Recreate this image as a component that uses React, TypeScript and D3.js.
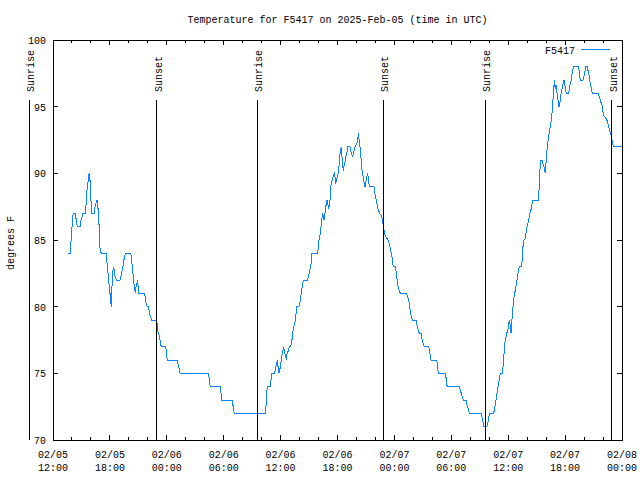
import React from "react";
import * as d3 from "d3";

// Time axis: hours after 2025-02-05 12:00 UTC
const startUtc = Date.UTC(2025, 1, 5, 12, 0);
const endUtc = Date.UTC(2025, 1, 8, 0, 0);

const seriesName = "F5417";
const titleText = "Temperature for F5417 on 2025-Feb-05 (time in UTC)";
const yAxisLabel = "degrees F";
const yTickValues = [70, 75, 80, 85, 90, 95, 100];
const yDomain = [70, 100];

const sunriseHours = [-2.5, 21.55, 45.59];
const sunsetHours = [10.93, 34.83, 58.91];

// [hours after start, degrees F]
const readingsDay1: [number, number][] = [
  [1.62, 84], [1.83, 84], [1.85, 84.5], [1.97, 85.5], [2.04, 86.5], [2.14, 87], [2.36, 87], [2.5, 86.2],
  [2.6, 86], [2.88, 86], [2.95, 86.5], [3.06, 86.7], [3.09, 87], [3.41, 87], [3.45, 87.5], [3.55, 88],
  [3.6, 89], [3.73, 89.5], [3.8, 90], [3.85, 89.5], [3.9, 89.5], [3.97, 88.5], [4.04, 87.5], [4.1, 87],
  [4.36, 87], [4.43, 87.5], [4.5, 87.5], [4.57, 88], [4.64, 88], [4.7, 87.5], [4.8, 87.2], [4.86, 86],
  [4.92, 84.7], [4.99, 84.2], [5.1, 84], [5.59, 84], [5.66, 83.5], [5.8, 82.5], [5.9, 81.7], [6.01, 81],
  [6.08, 80.5], [6.15, 80], [6.19, 81], [6.26, 82.2], [6.36, 83], [6.47, 82.7], [6.55, 82.2], [6.71, 82],
  [7.07, 82], [7.15, 82.2], [7.24, 82.5], [7.42, 83.2], [7.52, 83.7], [7.66, 84], [8.19, 84], [8.26, 83.7],
  [8.4, 82.7], [8.54, 81.7], [8.62, 81.3], [8.68, 81], [8.75, 81.5], [8.82, 81.7], [8.93, 82], [8.98, 81.5],
  [9.03, 81], [9.67, 81], [9.73, 80.6], [9.84, 80.1], [9.98, 80], [10.05, 80], [10.16, 79.6], [10.3, 79.2],
  [10.41, 79], [10.93, 79], [11.0, 78.6], [11.04, 78.2], [11.18, 77.9], [11.28, 77.5], [11.35, 77.2],
  [11.42, 77], [11.88, 77], [11.95, 76.7], [12.0, 76.2], [12.06, 76], [13.11, 76], [13.18, 75.7],
  [13.29, 75.4], [13.36, 75.1], [13.43, 75], [16.38, 75], [16.45, 74.7], [16.52, 74.2], [16.59, 74],
  [17.65, 74], [17.72, 73.5], [17.79, 73], [18.91, 73], [18.98, 72.6], [19.05, 72.2], [19.13, 72],
  [22.39, 72],
];

const readingsDay2: [number, number][] = [
  [22.46, 72.5], [22.53, 73.5], [22.6, 74], [22.95, 74], [22.99, 74.5], [23.02, 75], [23.34, 75],
  [23.41, 75.2], [23.48, 75.5], [23.58, 75.7], [23.66, 76], [23.73, 75.5], [23.83, 75], [23.9, 75.2],
  [23.97, 75.5], [24.08, 76], [24.18, 76.5], [24.25, 76.7], [24.32, 77], [24.46, 76.5], [24.61, 76],
  [24.68, 76.5], [24.82, 76.7], [24.92, 77], [25.03, 77], [25.13, 77.2], [25.24, 77.7], [25.31, 78.2],
  [25.38, 78.5], [25.48, 78.7], [25.59, 79.2], [25.69, 80], [25.91, 80], [26.01, 80.2], [26.12, 80.7],
  [26.22, 81.2], [26.33, 81.7], [26.4, 82], [26.82, 82], [26.93, 82.2], [27.0, 82.5], [27.07, 82.7],
  [27.14, 83], [27.21, 83.2], [27.31, 84], [27.91, 84], [27.98, 84.5], [28.05, 85], [28.15, 85.3],
  [28.26, 86], [28.37, 86.7], [28.44, 87], [28.51, 86.7], [28.58, 86.5], [28.68, 87], [28.79, 87.6],
  [28.89, 88], [29.0, 87.6], [29.07, 87.3], [29.14, 87.7], [29.21, 88], [29.28, 89], [29.39, 89.3],
  [29.45, 89.5], [29.56, 89.8], [29.67, 90], [29.74, 89.7], [29.81, 89.2], [29.91, 89.6], [30.02, 89.8],
  [30.12, 90.2], [30.19, 90.8], [30.26, 91.4], [30.33, 91.7], [30.4, 92], [30.47, 91.3], [30.54, 90.7],
  [30.61, 90.2], [30.68, 90.5], [30.75, 90.7], [30.82, 91], [30.9, 91.3], [31.0, 91.6], [31.1, 92],
  [31.32, 92], [31.39, 91.7], [31.49, 91.5], [31.6, 91.2], [31.67, 91.5], [31.74, 91.7], [31.85, 92],
  [31.95, 92.1], [32.06, 92.3], [32.13, 92.4], [32.2, 93], [32.27, 92.6], [32.37, 92], [32.44, 91.4],
  [32.51, 90.9], [32.58, 90.3], [32.65, 90], [32.72, 89.7], [32.83, 89.2], [32.9, 89], [33.0, 89.4],
  [33.07, 89.7], [33.18, 90], [33.25, 89.6], [33.32, 89.2], [33.35, 89], [33.84, 89], [33.92, 88.6],
  [34.02, 88.2], [34.13, 87.8], [34.24, 87.4], [34.34, 87.2], [34.45, 87], [34.55, 86.9], [34.66, 86.8],
  [34.77, 86.4], [34.84, 86], [34.91, 85.7], [35.01, 85.4], [35.12, 85.2], [35.33, 85], [35.43, 84.8],
  [35.54, 84.5], [35.64, 84.1], [35.75, 83.7], [35.82, 83.3], [35.89, 83], [36.1, 83], [36.17, 82.7],
  [36.24, 82.2], [36.35, 81.7], [36.45, 81.3], [36.56, 81.1], [36.66, 81], [37.29, 81], [37.4, 80.7],
  [37.51, 80.5], [37.58, 80.1], [37.68, 79.7], [37.79, 79.2], [37.89, 79], [38.28, 79], [38.35, 78.7],
  [38.45, 78.5], [38.56, 78.1], [38.66, 78], [38.84, 78], [38.91, 77.6], [39.05, 77.2], [39.16, 77],
  [39.62, 77], [39.69, 76.7], [39.76, 76.4], [39.86, 76], [40.46, 76], [40.53, 75.7], [40.6, 75.2],
  [40.67, 75], [41.37, 75], [41.44, 74.7], [41.51, 74.2], [41.58, 74], [42.85, 74], [42.95, 73.7],
  [43.06, 73.5], [43.17, 73.2], [43.27, 73], [43.55, 73], [43.62, 72.7], [43.73, 72.5], [43.83, 72.2],
  [43.9, 72], [45.13, 72], [45.24, 71.7], [45.34, 71.4], [45.41, 71], [45.73, 71], [45.83, 71.2],
  [45.94, 71.7], [46.05, 72], [46.43, 72],
];

const readingsDay3: [number, number][] = [
  [46.54, 72.2], [46.65, 72.7], [46.75, 73.2], [46.86, 73.7], [46.97, 74.1], [47.07, 74.6], [47.17, 75],
  [47.35, 75], [47.46, 75.5], [47.56, 76.5], [47.63, 77.2], [47.73, 77.6], [47.84, 78], [47.95, 78.2],
  [48.05, 78.7], [48.12, 79], [48.23, 78.5], [48.3, 78], [48.37, 78.7], [48.44, 79.5], [48.54, 80.2],
  [48.65, 81], [48.75, 81.2], [48.86, 81.7], [48.97, 82.2], [49.07, 82.7], [49.18, 83], [49.39, 83],
  [49.49, 83.5], [49.56, 84.5], [49.67, 85], [49.78, 85.1], [49.88, 85.5], [49.99, 86], [50.09, 86.3],
  [50.2, 86.7], [50.3, 87], [50.41, 87.3], [50.51, 87.7], [50.62, 88], [51.18, 88], [51.25, 88.8],
  [51.32, 89.6], [51.39, 91], [51.57, 91], [51.67, 90.7], [51.76, 90.5], [51.85, 90.2], [51.92, 90],
  [51.99, 90.8], [52.06, 91.4], [52.13, 92.1], [52.23, 92.6], [52.3, 92.9], [52.37, 93.2], [52.44, 93.6],
  [52.51, 93.8], [52.58, 94.1], [52.65, 94.8], [52.73, 95.6], [52.8, 96.3], [52.87, 97], [52.9, 96.7],
  [52.97, 96.3], [53.04, 96.6], [53.11, 96.3], [53.18, 95.8], [53.29, 95.3], [53.36, 95], [53.46, 95.3],
  [53.53, 95.8], [53.64, 96.2], [53.75, 96.6], [53.89, 97], [53.96, 96.7], [54.03, 96.3], [54.13, 96],
  [54.34, 96], [54.45, 96.3], [54.52, 96.6], [54.62, 96.9], [54.69, 97.3], [54.8, 97.7], [54.87, 98],
  [55.4, 98], [55.47, 97.7], [55.54, 97.3], [55.61, 97], [55.89, 97], [55.99, 97.3], [56.1, 97.7],
  [56.17, 98], [56.35, 98], [56.42, 97.7], [56.52, 97.4], [56.59, 97], [56.7, 96.6], [56.8, 96.3],
  [56.87, 96], [57.51, 96], [57.58, 95.8], [57.68, 95.6], [57.79, 95.3], [57.89, 95.1], [57.96, 94.8],
  [58.03, 94.4], [58.21, 94.2], [58.35, 94.1], [58.45, 93.9], [58.56, 93.6], [58.67, 93.3], [58.77, 93],
  [58.84, 92.9], [58.91, 92.6], [58.98, 92.4], [59.05, 92.1], [59.12, 92], [60.0, 92],
];

const FONT = "'Liberation Mono', 'DejaVu Sans Mono', monospace";
const LINE_COLOR = "#0a84ff";

export default function App() {
  const W = 640;
  const H = 480;
  const plot = { left: 53, right: 622, top: 40, bottom: 440 };
  const toDate = (h: number) => new Date(startUtc + h * 3600 * 1000);

  const x = d3.scaleUtc().domain([new Date(startUtc), new Date(endUtc)]).range([plot.left, plot.right]);
  const y = d3.scaleLinear().domain(yDomain).range([plot.bottom, plot.top]);

  const data = [...readingsDay1, ...readingsDay2, ...readingsDay3].map(([h, v]) => ({ t: toDate(h), v }));
  const linePath = d3
    .line<{ t: Date; v: number }>()
    .x((d) => x(d.t))
    .y((d) => y(d.v))(data) || "";

  const majorTicks = d3.utcHour.every(6)!.range(new Date(startUtc), new Date(endUtc + 1));
  const minorTicks = d3.utcHour.every(2)!.range(new Date(startUtc), new Date(endUtc + 1));
  const fmtDate = d3.utcFormat("%m/%d");
  const fmtTime = d3.utcFormat("%H:%M");

  const graphFrac = (f: number) => plot.bottom - f * (plot.bottom - plot.top);
  const events = [
    ...sunriseHours.map((h) => ({ h, label: "Sunrise" })),
    ...sunsetHours.map((h) => ({ h, label: "Sunset" })),
  ];

  const textStyle = { fontFamily: FONT, fontSize: 10, fill: "#000" } as const;

  return (
    <svg
      width={W}
      height={H}
      viewBox={`0 0 ${W} ${H}`}
      style={{ position: "fixed", left: 0, top: 0, background: "#fff", display: "block" }}
    >
      <rect x={0} y={0} width={W} height={H} fill="#fff" />
      <text x={(plot.left + plot.right) / 2} y={22.5} textAnchor="middle" {...textStyle}>
        {titleText}
      </text>
      <text transform={`translate(14,${(plot.top + plot.bottom) / 2 + 3}) rotate(-90)`} textAnchor="middle" {...textStyle}>
        {yAxisLabel}
      </text>

      <g shapeRendering="crispEdges" stroke="#000" strokeWidth={1}>
        {yTickValues.map((v) => (
          <g key={"yt" + v}>
            <line x1={plot.left} x2={plot.left + 5} y1={y(v)} y2={y(v)} />
            <line x1={plot.right - 5} x2={plot.right} y1={y(v)} y2={y(v)} />
          </g>
        ))}
        {minorTicks.map((d, i) => (
          <g key={"mt" + i}>
            <line x1={x(d)} x2={x(d)} y1={plot.bottom} y2={plot.bottom - 3} />
            <line x1={x(d)} x2={x(d)} y1={plot.top} y2={plot.top + 3} />
          </g>
        ))}
        {majorTicks.map((d, i) => (
          <g key={"Mt" + i}>
            <line x1={x(d)} x2={x(d)} y1={plot.bottom} y2={plot.bottom - 5} />
            <line x1={x(d)} x2={x(d)} y1={plot.top} y2={plot.top + 5} />
          </g>
        ))}
      </g>

      {yTickValues.map((v) => (
        <text key={"yl" + v} x={46} y={y(v) + 4} textAnchor="end" {...textStyle}>
          {v}
        </text>
      ))}
      {majorTicks.map((d, i) => (
        <g key={"xl" + i}>
          <text x={x(d)} y={457.5} textAnchor="middle" {...textStyle}>
            {fmtDate(d)}
          </text>
          <text x={x(d)} y={471} textAnchor="middle" {...textStyle}>
            {fmtTime(d)}
          </text>
        </g>
      ))}

      <path d={linePath} fill="none" stroke={LINE_COLOR} strokeWidth={1} shapeRendering="crispEdges" />

      {events.map((e, i) => {
        const ex = x(toDate(e.h));
        return (
          <g key={"ev" + i}>
            <line
              x1={ex}
              x2={ex}
              y1={graphFrac(0.85)}
              y2={plot.bottom}
              stroke="#000"
              strokeWidth={1}
              shapeRendering="crispEdges"
            />
            <text transform={`translate(${ex + 5},${92}) rotate(-90)`} textAnchor="start" {...textStyle}>
              {e.label}
            </text>
          </g>
        );
      })}

      <rect
        x={plot.left}
        y={plot.top}
        width={plot.right - plot.left}
        height={plot.bottom - plot.top}
        fill="none"
        stroke="#000"
        strokeWidth={1}
        shapeRendering="crispEdges"
      />

      <text x={575} y={53.5} textAnchor="end" {...textStyle}>
        {seriesName}
      </text>
      <line x1={581} x2={610} y1={49.5} y2={49.5} stroke={LINE_COLOR} strokeWidth={1} shapeRendering="crispEdges" />
    </svg>
  );
}
